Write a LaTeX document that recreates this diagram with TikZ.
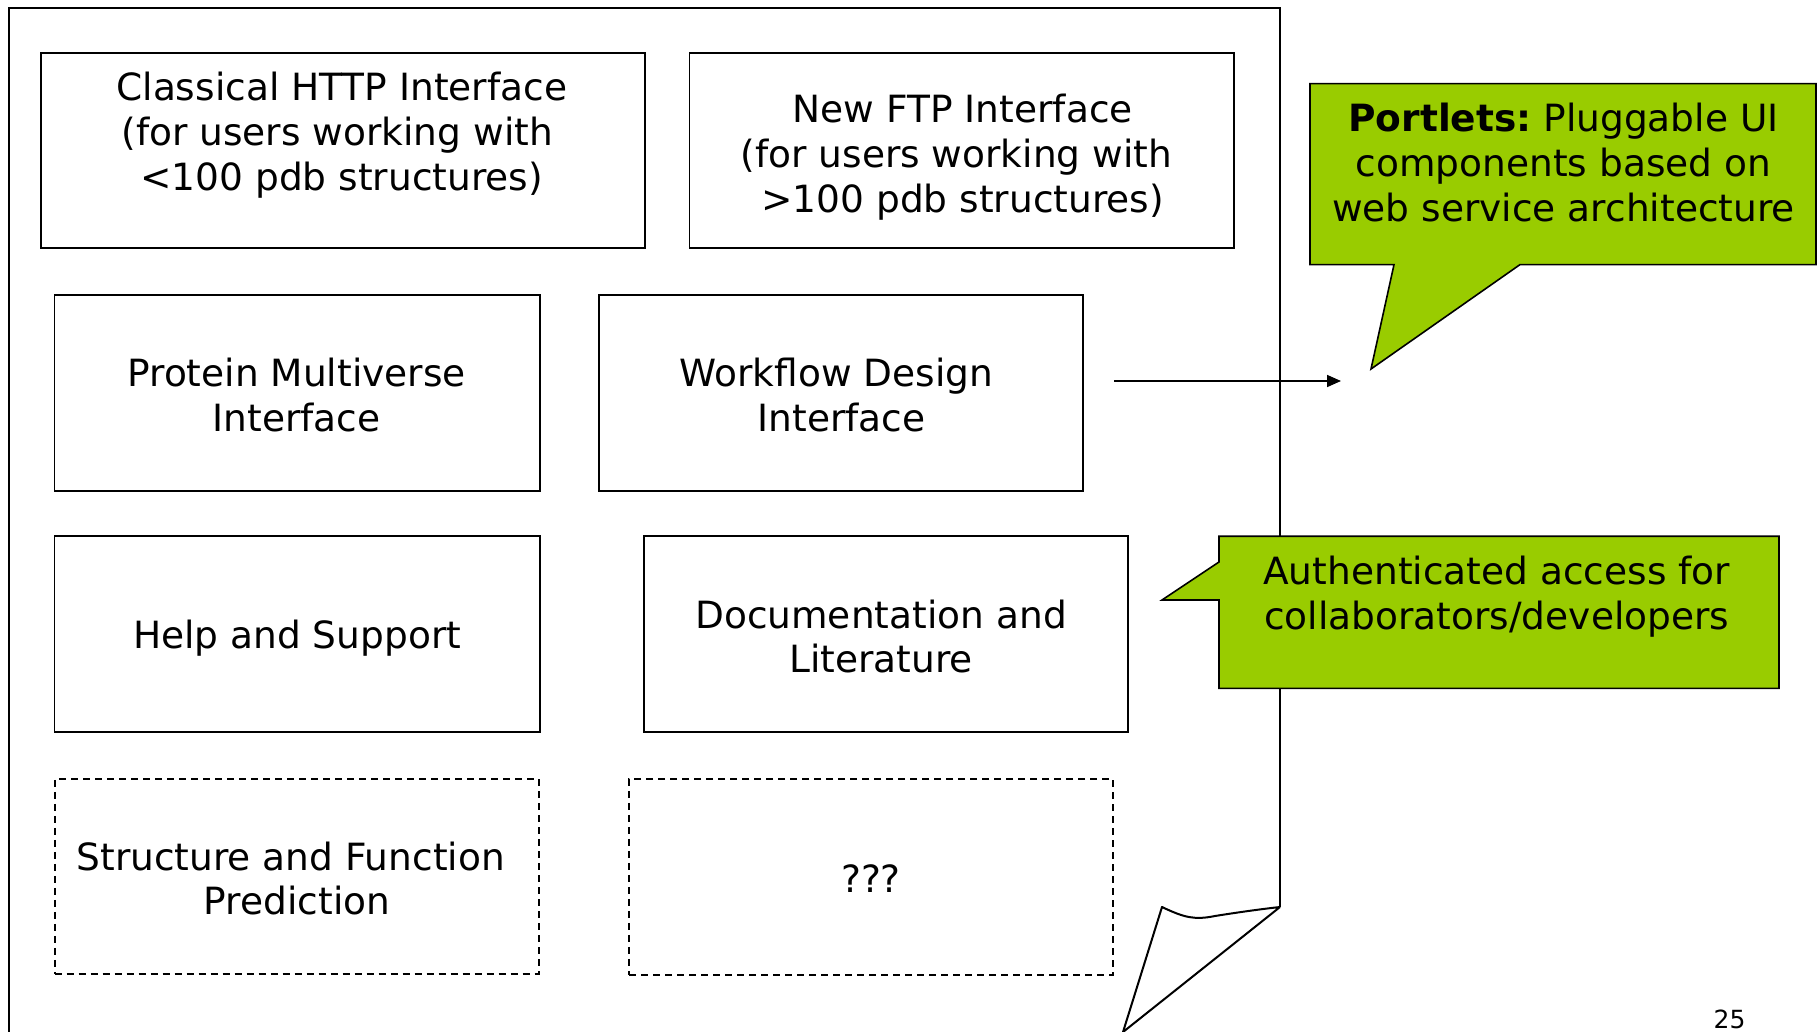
\documentclass[tikz,border=0pt]{standalone}
\usepackage{fontspec}
\setmainfont{DejaVu Sans}
\usetikzlibrary{arrows.meta}
\definecolor{callgreen}{HTML}{99CC00}
\newcommand{\bodyfont}{\fontsize{18.75}{22.4}\selectfont}
% trailing blank space at the end of a centred line
\newcommand{\trail}[1]{\hspace*{#1}\null}
\begin{document}
\begin{tikzpicture}[x=0.5pt,y=-0.5pt,
  box/.style={draw, line width=0.9pt, inner sep=0pt},
  dashbox/.style={box, dash pattern=on 3.5pt off 2.5pt},
  txt/.style={inner sep=0pt, align=center, font=\bodyfont},
  callout/.style={fill=callgreen, draw=black, line width=0.8pt, line join=miter},
  pageline/.style={draw=black, line width=1pt}]
\useasboundingbox (0,0) rectangle (1820,1032);

% page outline with curled corner
\draw[pageline] (9,1032) -- (9,8) -- (1280,8) -- (1280,907);
\draw[pageline, line join=round] (1280,907) -- (1123,1032) -- (1162,907)
  .. controls (1185,918) and (1195,920) .. (1215,916)
  .. controls (1240,912) and (1262,909) .. (1280,907);

% interface boxes
\node[box, minimum width=302.2pt, minimum height=97.5pt] (http) at (342.8,150.9) {};
\node[box, minimum width=272.2pt, minimum height=97.5pt] (ftp) at (961.6,150.9) {};
\node[box, minimum width=242.6pt, minimum height=98pt] (pmv) at (297.1,392.9) {};
\node[box, minimum width=242pt, minimum height=98pt] (wf) at (841,392.9) {};
\node[box, minimum width=242.6pt, minimum height=98pt] (help) at (297.1,634.3) {};
\node[box, minimum width=242pt, minimum height=98pt] (doc) at (886.2,634.3) {};
\node[dashbox, minimum width=242pt, minimum height=97.5pt] (sfp) at (296.6,876.3) {};
\node[dashbox, minimum width=242pt, minimum height=98pt] (unk) at (871.1,876.9) {};

% box labels
\node[txt] (httptext) at (341.8,135) {Classical HTTP Interface\\(for users working with\trail{4.6pt}\\<100 pdb structures)};
\node[txt] (ftptext) at (962.8,157) {New FTP Interface\\(for users working with\trail{6.4pt}\\>100 pdb structures)};
\node[txt] (pmvtext) at (296.6,395.2) {Protein Multiverse\\Interface};
\node[txt] (wftext) at (841.5,395) {Workflow Design\trail{5.2pt}\\Interface};
\node[txt] (helptext) at (297.1,638.5) {Help and Support};
\node[txt] (doctext) at (881,636.6) {Documentation and\\Literature};
\node[txt] (sfptext) at (297.1,878.6) {Structure and Function\trail{6.4pt}\\Prediction};
\node[txt] (unktext) at (871,879) {???};

% arrow towards the portlets callout
\coordinate (arrowstart) at (1114,381);
\coordinate (arrowend) at (1341,381);
\draw[line width=0.8pt, -{Triangle[length=7pt,width=6pt]}] (arrowstart) -- (arrowend);

% callouts
\draw[callout] (1310,83.6) -- (1816,83.6) -- (1816,264.6) -- (1520,264.6)
  -- (1371,369) -- (1394,264.6) -- (1310,264.6) -- cycle;
\node[txt] (portlets) at (1563.5,162.5)
  {\textbf{Portlets:}\ Pluggable UI\\components based on\\web service architecture};

\draw[callout] (1219,536.2) -- (1779,536.2) -- (1779,688.3) -- (1219,688.3)
  -- (1219,600) -- (1162,600) -- (1219,562) -- cycle;
\node[txt] (auth) at (1496.7,597)
  {Authenticated access for\\collaborators/developers};

% page number
\node[inner sep=0pt, font=\fontsize{12.5}{14}\selectfont] (pagenum) at (1729.5,1019.5) {25};
\end{tikzpicture}
\end{document}
